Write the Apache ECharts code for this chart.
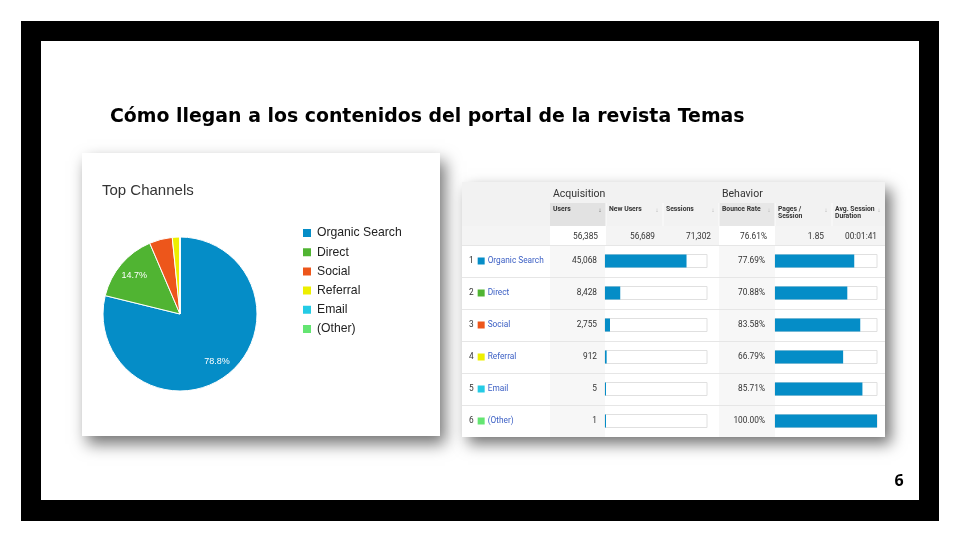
<!DOCTYPE html>
<html><head><meta charset="utf-8">
<script src="https://cdn.jsdelivr.net/npm/echarts@6/dist/echarts.min.js"></script>
<style>html,body{margin:0;padding:0;background:#fff}#c{width:960px;height:540px}</style>
</head><body><div id="c"></div>
<script>
// ---- data ----
const slideTitle = 'Cómo llegan a los contenidos del portal de la revista Temas';
const pageNumber = '6';
const pieTitle = 'Top Channels';
const categories = ['Organic Search', 'Direct', 'Social', 'Referral', 'Email', '(Other)'];
const users = [45068, 8428, 2755, 912, 5, 1];
const bounceRate = [77.69, 70.88, 83.58, 66.79, 85.71, 100.00];
const channelColors = ['#058DC7', '#50B432', '#ED561B', '#EDEF00', '#24CBE5', '#64E572'];
const groupHeaders = ['Acquisition', 'Behavior'];
const columnHeaders = ['Users', 'New Users', 'Sessions', 'Bounce Rate', 'Pages /\nSession', 'Avg. Session\nDuration'];
const totalUsers = 56385;
const totalNewUsers = 56689;
const totalSessions = 71302;
const totalBounceRate = 76.61;
const pagesPerSession = 1.85;
const avgSessionDuration = '00:01:41';

const fmt = v => v.toLocaleString('en-US');
const totals = [fmt(totalUsers), fmt(totalNewUsers), fmt(totalSessions),
  totalBounceRate.toFixed(2) + '%', pagesPerSession.toFixed(2), avgSessionDuration];

// ---- decoration (frame, cards, table cells, texts) ----
const G = [];
const R = (x, y, w, h, style, z) => G.push({type: 'rect', z: z || 0, silent: true, shape: {x, y, width: w, height: h}, style});
const T = (x, y, text, font, fill, align, va, extra) => G.push({type: 'text', z: 10, silent: true, x, y,
  style: Object.assign({text, font, fill, textAlign: align || 'left', textVerticalAlign: va || 'middle'}, extra || {})});

R(21, 21, 918, 500, {fill: '#000'});
R(41, 41, 878, 459, {fill: '#fff'});
// cards
R(82, 153, 358, 283, {fill: '#fff', shadowBlur: 15, shadowOffsetX: 5, shadowOffsetY: 8, shadowColor: 'rgba(0,0,0,0.55)'}, 1);
R(462, 182, 423, 255, {fill: '#fff', shadowBlur: 14, shadowOffsetX: 6, shadowOffsetY: 7, shadowColor: 'rgba(0,0,0,0.55)'}, 1);

const colX = [462, 550, 606, 663, 719, 775, 832, 885];
// header band
R(462, 182, 423, 44, {fill: '#f2f2f2'}, 1);
R(550, 203, 56, 23, {fill: '#e2e2e2'}, 1);
R(719, 203, 56, 23, {fill: '#e7e7e7'}, 1);
for (let j = 2; j < 7; j++) R(colX[j] - 0.5, 203, 1, 23, {fill: '#fbfbfb'}, 1);
// totals row
R(462, 226, 423, 19, {fill: '#f4f4f4'}, 1);
R(550, 226, 56, 19, {fill: '#fff'}, 1);
R(719, 226, 56, 19, {fill: '#fff'}, 1);
// data rows
R(550, 245, 55, 192, {fill: '#f7f7f7'}, 1);
R(719, 245, 56, 192, {fill: '#f7f7f7'}, 1);
for (let i = 0; i < 6; i++) R(462, 245 + 32 * i, 423, 1, {fill: '#e6e6e6'}, 1);

// texts
T(110, 117, slideTitle, 'bold 18.9px "DejaVu Sans"', '#000');
T(899, 481, pageNumber, 'bold 16px "Open Sans"', '#000', 'center');
T(102, 191, pieTitle, '15px "Liberation Sans"', '#333');
T(553, 194, groupHeaders[0], '10.5px Roboto', '#333');
T(722, 194, groupHeaders[1], '10.5px Roboto', '#333');
for (let j = 0; j < 6; j++) {
  T(colX[j + 1] + 3, 206, columnHeaders[j], 'bold 6.8px Roboto', '#333', 'left', 'top', {lineHeight: 7});
  T(colX[j + 2] - 6, 210, '↓', '6px Roboto', j === 0 ? '#555' : '#aaa', 'center');
  T(colX[j + 2] - 8, 237, totals[j], '8.3px Roboto', '#333', 'right');
}

const rich = {
  n: {fontSize: 8.3, fontFamily: 'Roboto', color: '#333', padding: [0, 4, 0, 0]},
  nm: {fontSize: 8.3, fontFamily: 'Roboto', color: '#3b5fc4', padding: [0, 0, 0, 3]}
};
channelColors.forEach((c, i) => { rich['s' + i] = {backgroundColor: c, width: 7, height: 7, fontSize: 7}; });

const chart = echarts.init(document.getElementById('c'), null, {renderer: 'canvas'});
const pieData = categories.map((n, i) => ({name: n, value: users[i], itemStyle: {color: channelColors[i]}}));
chart.setOption({
  animation: false,
  backgroundColor: '#fff',
  graphic: {elements: G},
  legend: {
    orient: 'vertical', left: 296, top: 221,
    itemWidth: 10, itemHeight: 10, itemGap: 5.2, icon: 'rect',
    textStyle: {fontSize: 12.2, fontFamily: '"Liberation Sans"', color: '#222', lineHeight: 14},
    data: categories.map((n, i) => ({name: n, itemStyle: {color: channelColors[i]}})),
    selectedMode: false
  },
  grid: [
    {left: 605, top: 245, width: 102, height: 192, outerBoundsMode: 'none'},
    {left: 775, top: 245, width: 102, height: 192, outerBoundsMode: 'none'}
  ],
  xAxis: [
    {gridIndex: 0, type: 'value', min: 0, max: totalUsers, show: false},
    {gridIndex: 1, type: 'value', min: 0, max: 100, show: false}
  ],
  yAxis: [
    {gridIndex: 0, type: 'category', data: categories, inverse: true, z: 12,
      axisLine: {show: false}, axisTick: {show: false}, splitLine: {show: false},
      axisLabel: {margin: 136, align: 'left', rich,
        formatter: (v, i) => `{n|${i + 1}}{s${i}| }{nm|${v}}`}},
    {gridIndex: 1, type: 'category', data: categories, inverse: true, show: false}
  ],
  series: [
    {type: 'pie', center: [180, 314], radius: 77, startAngle: 90, clockwise: true, silent: true,
      data: pieData, itemStyle: {borderColor: '#fff', borderWidth: 1},
      label: {show: false}, labelLine: {show: false}, z: 3},
    {type: 'pie', center: [180, 314], radius: [37, 77], startAngle: 90, clockwise: true, silent: true,
      data: categories.map((n, i) => ({name: n, value: users[i], itemStyle: {color: 'rgba(0,0,0,0)'}})),
      label: {show: true, position: 'inside', color: '#fff', fontSize: 9, fontFamily: '"Liberation Sans"',
        formatter: p => p.percent >= 10 ? p.percent.toFixed(1) + '%' : ''},
      labelLine: {show: false}, z: 4},
    {type: 'bar', xAxisIndex: 0, yAxisIndex: 0, data: users, barWidth: 13, barMinHeight: 1, silent: true,
      itemStyle: {color: '#058DC7'}, showBackground: true,
      backgroundStyle: {color: '#fff', borderColor: '#e0e0e0', borderWidth: 1},
      label: {show: true, position: 'left', distance: 8, fontSize: 8.3, fontFamily: 'Roboto', color: '#333',
        formatter: p => fmt(p.value)}, z: 3},
    {type: 'bar', xAxisIndex: 1, yAxisIndex: 1, data: bounceRate, barWidth: 13, silent: true,
      itemStyle: {color: '#058DC7'}, showBackground: true,
      backgroundStyle: {color: '#fff', borderColor: '#e0e0e0', borderWidth: 1},
      label: {show: true, position: 'left', distance: 10, fontSize: 8.3, fontFamily: 'Roboto', color: '#333',
        formatter: p => p.value.toFixed(2) + '%'}, z: 3}
  ]
});
</script></body></html>
